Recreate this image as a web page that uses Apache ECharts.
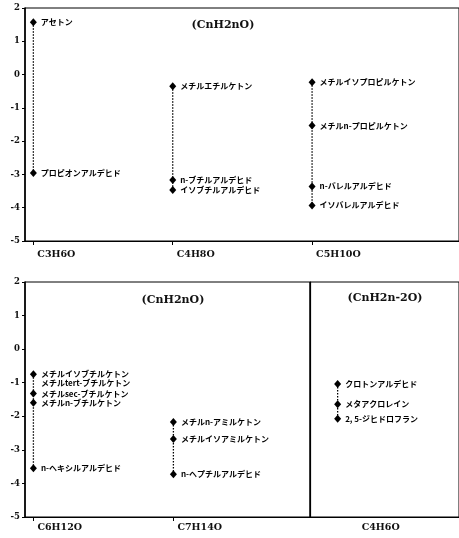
<!DOCTYPE html>
<html><head><meta charset="utf-8">
<script src="https://cdn.jsdelivr.net/npm/echarts@6/dist/echarts.min.js"></script>
<style>html,body{margin:0;padding:0;background:#fff}#c{width:459px;height:538px}</style>
</head><body><div id="c"></div>
<script>
// ---- data ----
const topCategories = ['C3H6O', 'C4H8O', 'C5H10O'];
const topNames = [
  ['アセトン', 'プロピオンアルデヒド'],
  ['メチルエチルケトン', 'n-ブチルアルデヒド', 'イソブチルアルデヒド'],
  ['メチルイソプロピルケトン', 'メチルn-プロピルケトン', 'n-バレルアルデヒド', 'イソバレルアルデヒド']
];
const topValues = [
  [1.57, -2.96],
  [-0.35, -3.17, -3.47],
  [-0.23, -1.53, -3.36, -3.93]
];
const bottomLeftCategories = ['C6H12O', 'C7H14O'];
const bottomLeftNames = [
  ['メチルイソブチルケトン', 'メチルtert-ブチルケトン', 'メチルsec-ブチルケトン', 'メチルn-ブチルケトン', 'n-ヘキシルアルデヒド'],
  ['メチルn-アミルケトン', 'メチルイソアミルケトン', 'n-ヘプチルアルデヒド']
];
const bottomLeftValues = [
  [-0.75, -1.0, -1.32, -1.6, -3.55],
  [-2.17, -2.68, -3.73]
];
const bottomRightCategories = ['C4H6O'];
const bottomRightNames = [['クロトンアルデヒド', 'メタアクロレイン', '2, 5-ジヒドロフラン']];
const bottomRightValues = [[-1.04, -1.64, -2.07]];
const noMarker = ['メチルtert-ブチルケトン'];
const panelTitles = ['(CnH2nO)', '(CnH2nO)', '(CnH2n-2O)'];
const yMin = -5, yMax = 2, yStep = 1;

// ---- chart ----
const chart = echarts.init(document.getElementById('c'), null, {renderer: 'canvas'});
const jpFont = '"Noto Sans CJK JP", sans-serif';
const numFont = '"DejaVu Serif", serif';

function makeSeries(names, values, axisIdx) {
  return names.map((group, i) => ({
    type: 'line',
    xAxisIndex: axisIdx,
    yAxisIndex: axisIdx,
    symbol: 'diamond',
    animation: false,
    lineStyle: {type: [1.5, 1.5], width: 1.3, color: '#000'},
    itemStyle: {color: '#000'},
    label: {
      show: true, position: 'right', distance: 4, formatter: '{b}',
      fontSize: 8, fontWeight: 'bold', color: '#000', fontFamily: jpFont
    },
    data: group.map((n, j) => {
      const hidden = noMarker.includes(n);
      return {
        name: n,
        value: [i, values[i][j]],
        symbolSize: hidden ? 0 : [7, 8],
        label: hidden ? {distance: 7.5} : undefined
      };
    })
  }));
}

const spacing = 140;
function xAxisDef(gridIndex, min, width, cats, showTicks, pad) {
  const idx = cats.map((c, i) => i);
  return {
    type: 'value', gridIndex: gridIndex, min: min, max: min + width / spacing,
    splitLine: {show: false},
    axisLine: {show: true, onZero: false, lineStyle: {color: '#000', width: 1}},
    axisTick: {show: showTicks, customValues: idx, length: 4, lineStyle: {color: '#000', width: 1}},
    axisLabel: {
      customValues: idx, formatter: v => cats[Math.round(v)] || '',
      align: 'left', padding: [0, 0, 0, pad], margin: gridIndex === 0 ? 9 : 6,
      fontSize: 9.5, fontWeight: 'bold', color: '#111', fontFamily: numFont
    }
  };
}
function yAxisDef(gridIndex, showLabels) {
  return {
    type: 'value', gridIndex: gridIndex, min: yMin, max: yMax, interval: yStep,
    splitLine: {show: false},
    axisLine: {show: true, onZero: false, lineStyle: {color: '#000', width: showLabels ? 1.6 : 1.2}},
    axisTick: {show: showLabels, length: 3, lineStyle: {color: '#000'}},
    axisLabel: {show: showLabels, margin: 5, fontSize: 8.5, fontWeight: 'bold', color: '#111', fontFamily: numFont}
  };
}

const gridStyle = {show: true, borderColor: '#000', borderWidth: 1, containLabel: false};
const option = {
  backgroundColor: '#fff',
  animation: false,
  title: [
    {text: panelTitles[0], left: 218, top: 15},
    {text: panelTitles[1], left: 168, top: 290},
    {text: panelTitles[2], left: 380, top: 288}
  ].map(t => Object.assign(t, {textAlign: 'center', textStyle: {fontSize: 11, fontWeight: 'bold', color: '#111', fontFamily: numFont}})),
  grid: [
    Object.assign({left: 25, top: 8, width: 436, height: 233}, gridStyle),
    Object.assign({left: 25, top: 282, width: 285, height: 235}, gridStyle),
    Object.assign({left: 310, top: 282, width: 151, height: 235}, gridStyle)
  ],
  xAxis: [
    xAxisDef(0, -0.06, 436, topCategories, true, 4),
    xAxisDef(1, -0.06, 285, bottomLeftCategories, true, 4),
    xAxisDef(2, -0.2, 151, bottomRightCategories, false, 24)
  ],
  yAxis: [yAxisDef(0, true), yAxisDef(1, true), yAxisDef(2, false)],
  series: [].concat(
    makeSeries(topNames, topValues, 0),
    makeSeries(bottomLeftNames, bottomLeftValues, 1),
    makeSeries(bottomRightNames, bottomRightValues, 2)
  )
};
chart.setOption(option);
</script></body></html>
